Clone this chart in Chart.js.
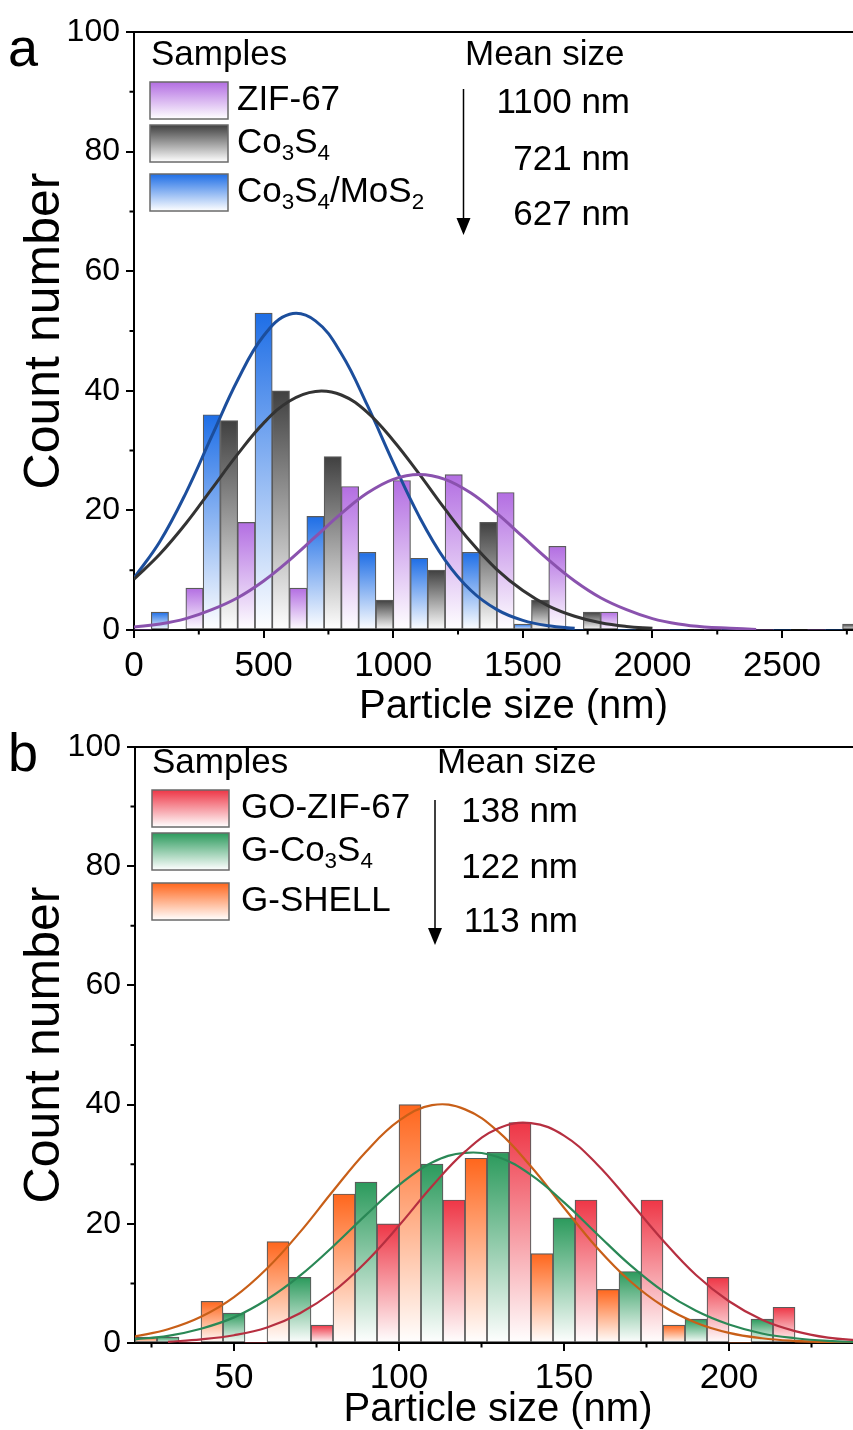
<!DOCTYPE html>
<html>
<head>
<meta charset="utf-8">
<title>Particle size distributions</title>
<script src="https://cdn.jsdelivr.net/npm/chart.js@4.4.1/dist/chart.umd.min.js"></script>
<style>
  html, body { margin: 0; padding: 0; background: #fff; overflow: hidden; width: 853px; height: 1430px; }
  canvas { position: absolute; left: 0; }
  #chartA { top: 0; }
  #chartB { top: 725px; }
</style>
</head>
<body>
<canvas id="chartA" width="893" height="725"></canvas>
<canvas id="chartB" width="861" height="705"></canvas>
<script>
// ---- panel a: 200 nm bins, centre values ----
const binsA = [100, 300, 500, 700, 900, 1100, 1300, 1500, 1700, 1900, 2100, 2300, 2500, 2700];
const zif67Counts     = [0, 7, 18, 7, 24, 25, 26, 23, 14, 3, 0, 0, 0, 0];
const co3s4MoS2Counts = [3, 36, 53, 19, 13, 12, 13, 1, 0, 0, 0, 0, 0, 0];
const co3s4Counts     = [0, 35, 40, 29, 5, 10, 18, 5, 3, 0, 0, 0, 0, 1];

// fitted distribution curves, sampled every 100 nm
const fitXA = [0, 100, 200, 300, 400, 500, 600, 700, 800, 900, 1000, 1100, 1200,
               1300, 1400, 1500, 1600, 1700, 1800, 1900, 2000, 2100, 2200, 2300, 2400];
const zif67Fit     = [0.5, 1.0, 1.9, 3.4, 5.4, 8.2, 11.7, 15.6, 19.5, 22.9, 25.2, 26.0, 25.2,
                      22.9, 19.5, 15.6, 11.7, 8.2, 5.4, 3.4, 1.9, 1.0, 0.5, 0.3, 0.1];
const co3s4MoS2Fit = [8.7, 14.8, 22.9, 32.4, 41.8, 49.2, 52.8, 51.7, 46.2, 37.6, 28.0, 19.0, 11.7,
                      6.6, 3.4, 1.6, 0.7, 0.3];
const co3s4Fit     = [8.5, 12.7, 17.8, 23.6, 29.4, 34.6, 38.3, 39.9, 39.3, 36.4, 31.7, 26.1, 20.2,
                      14.7, 10.1, 6.6, 4.0, 2.3, 1.2, 0.6, 0.3];

const xTicksA = [0, 500, 1000, 1500, 2000, 2500];
const xMinorA = [250, 750, 1250, 1750, 2250, 2750];
const samplesA = ['ZIF-67', 'Co_3S_4', 'Co_3S_4/MoS_2'];
const meanSizesA = [1100, 721, 627];

// ---- panel b: 20 nm bins ----
const binsB = [30, 50, 70, 90, 110, 130, 150, 170, 190, 210, 230];
const gShellCounts  = [1, 7, 17, 25, 40, 31, 15, 9, 3, 0, 0];
const gCo3S4Counts  = [1, 5, 11, 27, 30, 32, 21, 12, 4, 4, 0];
const goZif67Counts = [0, 0, 3, 20, 24, 37, 24, 24, 11, 6, 0];

const fitXB = [20, 30, 40, 50, 60, 70, 80, 90, 100, 110, 120, 130, 140, 150,
               160, 170, 180, 190, 200, 210, 220, 230, 240];
const gShellFit  = [1.1, 2.3, 4.4, 7.7, 12.5, 18.6, 25.5, 32.1, 37.3, 39.9, 39.2, 35.5, 29.6, 22.7,
                    16.0, 10.4, 6.2, 3.4, 1.7, 0.8, 0.35, 0.14, 0.05];
const gCo3S4Fit  = [0.6, 1.2, 2.4, 4.3, 7.3, 11.3, 16.2, 21.5, 26.5, 30.3, 31.9, 31.2, 28.2, 23.6,
                    18.3, 13.1, 8.7, 5.4, 3.1, 1.6, 0.8, 0.35, 0.15];
const goZif67Fit = [null, 0.2, 0.6, 1.3, 2.6, 5.0, 8.6, 13.6, 19.7, 26.3, 32.1, 36.0, 36.9, 34.8,
                    30.0, 23.7, 17.2, 11.4, 7.0, 3.9, 2.0, 0.9, 0.4];

const xTicksB = [50, 100, 150, 200];
const xMinorB = [25, 75, 125, 175, 225];
const samplesB = ['GO-ZIF-67', 'G-Co_3S_4', 'G-SHELL'];
const meanSizesB = [138, 122, 113];

// shared y axis
const yTicks = [0, 20, 40, 60, 80, 100];
const yMinor = [10, 30, 50, 70, 90];

const FONT = '"Liberation Sans", Arial, Helvetica, sans-serif';
Chart.defaults.font.family = FONT;
Chart.defaults.color = '#000';

const COLORS = {
  zif:   { bar: '#b36ee2', line: '#8a52ae' },
  mos:   { bar: '#1e6ee6', line: '#1c4e9c' },
  co3s4: { bar: '#404040', line: '#333333' },
  goZif: { bar: '#ee3646', line: '#b62f40' },
  gCo:   { bar: '#2b9a5c', line: '#2a8856' },
  shell: { bar: '#ff661c', line: '#c85f18' }
};

function pairs(xs, ys) {
  return ys.map((y, i) => ({ x: xs[i], y }));
}

// vertical fade from the series colour at the bar top to white at the base
function fade(color) {
  return c => {
    const chart = c.chart;
    if (!chart.chartArea || !c.raw) return color;
    const ys = chart.scales.y;
    const top = ys.getPixelForValue(c.raw.y);
    const base = ys.getPixelForValue(0);
    if (base - top < 1) return color;
    const g = chart.ctx.createLinearGradient(0, top, 0, base);
    g.addColorStop(0, color);
    g.addColorStop(1, '#ffffff');
    return g;
  };
}

function barSet(label, bins, counts, color) {
  return {
    type: 'bar',
    label,
    order: 1,
    data: pairs(bins, counts),
    backgroundColor: fade(color),
    borderColor: '#5a5a5a',
    borderWidth: c => (c.raw && c.raw.y > 0 ? 1.2 : 0),
    borderSkipped: false,
    barPercentage: 1,
    categoryPercentage: 1
  };
}

function fitSet(label, xs, ys, color, width) {
  return {
    type: 'line',
    label,
    order: 0,
    data: pairs(xs, ys),
    borderColor: color,
    borderWidth: width,
    pointRadius: 0,
    fill: false,
    tension: 0.4
  };
}

function axes(o) {
  return {
    x: {
      type: 'linear',
      min: o.xMin,
      max: o.xMax,
      offset: false,
      afterFit: s => { s.height = o.xHeight; },
      afterBuildTicks: s => { s.ticks = o.xTicks.map(v => ({ value: v })); },
      border: { display: true, color: '#000', width: 2 },
      grid: { drawOnChartArea: false, drawTicks: true, tickLength: 8, color: '#000', lineWidth: 2, offset: false },
      ticks: { font: { size: 35, lineHeight: 1 }, padding: o.xTickPad, maxRotation: 0, autoSkip: false, callback: v => String(v) },
      title: { display: true, text: 'Particle size (nm)', font: { size: 40, lineHeight: 1.1 }, padding: { top: 0, bottom: o.titlePad } }
    },
    y: {
      type: 'linear',
      min: 0,
      max: 100,
      afterFit: s => { s.width = o.yWidth; },
      afterBuildTicks: s => { s.ticks = yTicks.map(v => ({ value: v })); },
      border: { display: true, color: '#000', width: 2 },
      grid: { drawOnChartArea: false, drawTicks: true, tickLength: 8, color: '#000', lineWidth: 2 },
      ticks: { font: { size: 32, lineHeight: 1 }, padding: 6, callback: v => String(v) },
      title: { display: true, text: 'Count number', font: { size: 50, lineHeight: 1.1 }, padding: { top: 18, bottom: 0 } }
    }
  };
}

// text with one-character subscripts written as _3
function drawRich(ctx, text, x, y, size) {
  ctx.textBaseline = 'middle';
  ctx.textAlign = 'left';
  let cx = x;
  for (let i = 0; i < text.length; i++) {
    let ch = text[i];
    let sub = false;
    if (ch === '_') { sub = true; ch = text[++i]; }
    const s = sub ? size * 0.64 : size;
    ctx.font = `${s}px ${FONT}`;
    ctx.fillText(ch, cx, sub ? y + size * 0.3 : y);
    cx += ctx.measureText(ch).width;
  }
}

// frame, minor ticks, panel letter, sample key and mean-size column
const decor = {
  id: 'decor',
  afterDraw(chart, args, o) {
    const ctx = chart.ctx;
    const { left, right, top, bottom } = chart.chartArea;
    const xs = chart.scales.x, ys = chart.scales.y;
    ctx.save();
    ctx.strokeStyle = '#000';
    ctx.fillStyle = '#000';
    ctx.lineWidth = 2;

    ctx.beginPath();
    ctx.moveTo(left, top);
    ctx.lineTo(right, top);
    ctx.stroke();

    ctx.beginPath();
    o.minorX.forEach(v => {
      const px = xs.getPixelForValue(v);
      ctx.moveTo(px, bottom);
      ctx.lineTo(px, bottom + 4.5);
    });
    o.minorY.forEach(v => {
      const py = ys.getPixelForValue(v);
      ctx.moveTo(left, py);
      ctx.lineTo(left - 4.5, py);
    });
    ctx.stroke();

    ctx.font = `${o.letterSize}px ${FONT}`;
    ctx.textAlign = 'left';
    ctx.textBaseline = 'alphabetic';
    ctx.fillText(o.letter, o.letterX, o.letterY);

    const fs = o.fontSize;
    ctx.font = `${fs}px ${FONT}`;
    ctx.fillText('Samples', o.samplesX, o.headY);
    ctx.fillText('Mean size', o.meanX, o.headY);

    o.names.forEach((name, i) => {
      const y0 = o.boxTops[i];
      const g = ctx.createLinearGradient(0, y0, 0, y0 + o.boxH);
      g.addColorStop(0, o.colors[i]);
      g.addColorStop(1, '#ffffff');
      ctx.fillStyle = g;
      ctx.fillRect(o.boxX, y0, o.boxW, o.boxH);
      ctx.strokeStyle = '#6a6a6a';
      ctx.lineWidth = 1.5;
      ctx.strokeRect(o.boxX, y0, o.boxW, o.boxH);
      ctx.fillStyle = '#000';
      drawRich(ctx, name, o.labelX, y0 + o.boxH / 2, fs);
    });

    ctx.font = `${fs}px ${FONT}`;
    ctx.textAlign = 'right';
    ctx.textBaseline = 'middle';
    o.means.forEach((m, i) => ctx.fillText(`${m} nm`, o.valueRight, o.valueYs[i]));

    ctx.strokeStyle = '#000';
    ctx.lineWidth = 1.5;
    ctx.beginPath();
    ctx.moveTo(o.arrowX, o.arrowTop);
    ctx.lineTo(o.arrowX, o.arrowTip - 14);
    ctx.stroke();
    ctx.beginPath();
    ctx.moveTo(o.arrowX - 7, o.arrowTip - 17);
    ctx.lineTo(o.arrowX + 7, o.arrowTip - 17);
    ctx.lineTo(o.arrowX, o.arrowTip);
    ctx.closePath();
    ctx.fill();
    ctx.restore();
  }
};

new Chart(document.getElementById('chartA'), {
  type: 'bar',
  data: {
    datasets: [
      fitSet('ZIF-67 fit', fitXA, zif67Fit, COLORS.zif.line, 3),
      fitSet('Co3S4 fit', fitXA, co3s4Fit, COLORS.co3s4.line, 3),
      fitSet('Co3S4/MoS2 fit', fitXA, co3s4MoS2Fit, COLORS.mos.line, 3),
      barSet('ZIF-67', binsA, zif67Counts, COLORS.zif.bar),
      barSet('Co3S4/MoS2', binsA, co3s4MoS2Counts, COLORS.mos.bar),
      barSet('Co3S4', binsA, co3s4Counts, COLORS.co3s4.bar)
    ]
  },
  options: {
    responsive: false,
    animation: false,
    devicePixelRatio: 1,
    layout: { padding: { top: 32, left: 0, right: 0, bottom: 0 } },
    plugins: {
      legend: { display: false },
      tooltip: { enabled: false },
      decor: {
        letter: 'a', letterX: 8, letterY: 66, letterSize: 54,
        minorX: xMinorA, minorY: yMinor,
        fontSize: 35, headY: 65,
        samplesX: 151, meanX: 465,
        boxX: 150, boxW: 78, boxH: 37, boxTops: [82, 125, 174],
        names: samplesA,
        colors: [COLORS.zif.bar, COLORS.co3s4.bar, COLORS.mos.bar],
        labelX: 237,
        means: meanSizesA, valueRight: 630, valueYs: [103, 160, 215],
        arrowX: 463.5, arrowTop: 89, arrowTip: 235
      }
    },
    scales: axes({ xMin: 0, xMax: 2928, xTicks: xTicksA, xHeight: 95, yWidth: 134, titlePad: -4, xTickPad: 11 })
  },
  plugins: [decor]
});

new Chart(document.getElementById('chartB'), {
  type: 'bar',
  data: {
    datasets: [
      fitSet('GO-ZIF-67 fit', fitXB, goZif67Fit, COLORS.goZif.line, 2.2),
      fitSet('G-Co3S4 fit', fitXB, gCo3S4Fit, COLORS.gCo.line, 2.2),
      fitSet('G-SHELL fit', fitXB, gShellFit, COLORS.shell.line, 2.2),
      barSet('G-SHELL', binsB, gShellCounts, COLORS.shell.bar),
      barSet('G-Co3S4', binsB, gCo3S4Counts, COLORS.gCo.bar),
      barSet('GO-ZIF-67', binsB, goZif67Counts, COLORS.goZif.bar)
    ]
  },
  options: {
    responsive: false,
    animation: false,
    devicePixelRatio: 1,
    layout: { padding: { top: 17, left: 0, right: 0, bottom: 0 } },
    plugins: {
      legend: { display: false },
      tooltip: { enabled: false },
      decor: {
        letter: 'b', letterX: 8, letterY: 46, letterSize: 54,
        minorX: xMinorB, minorY: yMinor,
        fontSize: 35, headY: 48,
        samplesX: 152, meanX: 437,
        boxX: 152, boxW: 77, boxH: 37, boxTops: [65, 108, 158],
        names: samplesB,
        colors: [COLORS.goZif.bar, COLORS.gCo.bar, COLORS.shell.bar],
        labelX: 241,
        means: meanSizesB, valueRight: 578, valueYs: [87, 143, 197],
        arrowX: 435, arrowTop: 75, arrowTip: 220
      }
    },
    scales: axes({ xMin: 20, xMax: 240, xTicks: xTicksB, xHeight: 87, yWidth: 135, titlePad: -2, xTickPad: 10 })
  },
  plugins: [decor]
});
</script>
</body>
</html>
